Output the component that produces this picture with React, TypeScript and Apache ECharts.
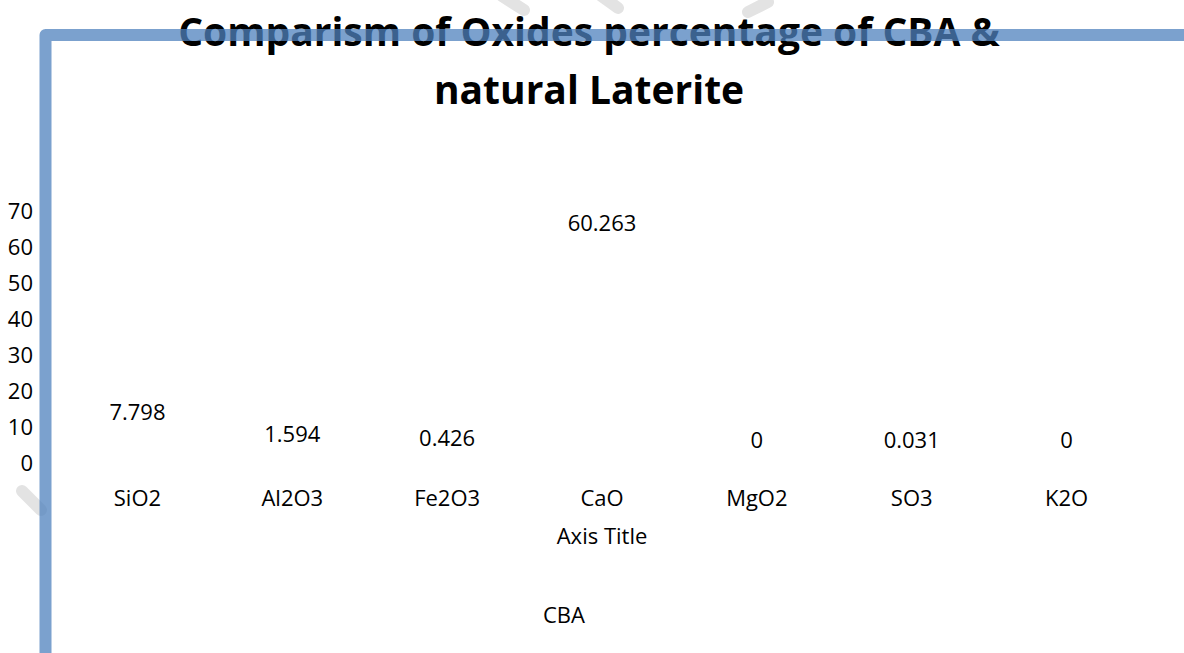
import React, { useEffect, useRef } from "react";
import * as echarts from "echarts";

const categories = ["SiO2", "Al2O3", "Fe2O3", "CaO", "MgO2", "SO3", "K2O"];
const cbaValues = [7.798, 1.594, 0.426, 60.263, 0, 0.031, 0];
const seriesName = "CBA";
const titleText = "Comparism of Oxides percentage of CBA &\nnatural Laterite";
const xAxisTitle = "Axis Title";
const yMin = 0;
const yMax = 70;
const yInterval = 10;

const FONT = "'Open Sans', 'Noto Sans', sans-serif";

export default function App() {
  const ref = useRef<HTMLDivElement>(null);

  useEffect(() => {
    if (!ref.current) return;
    const chart = echarts.init(ref.current, null, { renderer: "svg" });
    const gray = "#e3e3e3";
    chart.setOption({
      animation: false,
      backgroundColor: "#ffffff",
      textStyle: { fontFamily: FONT },
      title: {
        text: titleText,
        left: 584,
        top: -4,
        textAlign: "center",
        textStyle: {
          fontFamily: FONT,
          fontWeight: "bold",
          fontSize: 39,
          lineHeight: 58,
          color: "#000",
        },
      },
      legend: {
        data: [seriesName],
        left: 508,
        top: 598,
        itemWidth: 25,
        itemHeight: 14,
        textStyle: { fontFamily: FONT, fontSize: 22, color: "#000" },
      },
      grid: { left: 60, right: 40, top: 210, bottom: 191, containLabel: false },
      xAxis: {
        type: "category",
        data: categories,
        name: xAxisTitle,
        nameLocation: "middle",
        nameGap: 62,
        nameTextStyle: { fontFamily: FONT, fontSize: 22, color: "#000" },
        axisLine: { show: false },
        axisTick: { show: false },
        axisLabel: { fontFamily: FONT, fontSize: 22, color: "#000", margin: 24 },
        splitLine: { show: false },
      },
      yAxis: {
        type: "value",
        min: yMin,
        max: yMax,
        interval: yInterval,
        axisLine: { show: false },
        axisTick: { show: false },
        splitLine: { show: false },
        axisLabel: { fontFamily: FONT, fontSize: 22, color: "#000", margin: 27 },
      },
      series: [
        {
          name: seriesName,
          type: "bar",
          data: cbaValues,
          barWidth: "60%",
          itemStyle: { color: "rgba(0,0,0,0)" },
          label: {
            show: true,
            position: "top",
            distance: 12,
            fontFamily: FONT,
            fontSize: 22,
            color: "#000",
            formatter: (p: any) => String(p.value),
          },
        },
      ],
      graphic: [
        {
          type: "line",
          z: 1,
          shape: { x1: 502, y1: -4, x2: 524, y2: 10 },
          style: { stroke: gray, lineWidth: 12, lineCap: "round" },
        },
        {
          type: "line",
          z: 1,
          shape: { x1: 596, y1: -8, x2: 618, y2: 8 },
          style: { stroke: gray, lineWidth: 12, lineCap: "round" },
        },
        {
          type: "line",
          z: 1,
          shape: { x1: 768, y1: 2, x2: 748, y2: 12 },
          style: { stroke: gray, lineWidth: 12, lineCap: "round" },
        },
        {
          type: "line",
          z: 1,
          shape: { x1: 22, y1: 491, x2: 41, y2: 510 },
          style: { stroke: gray, lineWidth: 12, lineCap: "round" },
        },
        {
          type: "polyline",
          z: 100,
          shape: { points: [[45.5, 700], [45.5, 35], [1200, 35]] },
          style: {
            stroke: "#4F81BD",
            opacity: 0.75,
            lineWidth: 12,
            lineJoin: "round",
            fill: "none",
          },
        },
      ],
    });
    return () => chart.dispose();
  }, []);

  return (
    <div
      ref={ref}
      style={{ position: "fixed", left: 0, top: 0, width: 1184, height: 653 }}
    />
  );
}
